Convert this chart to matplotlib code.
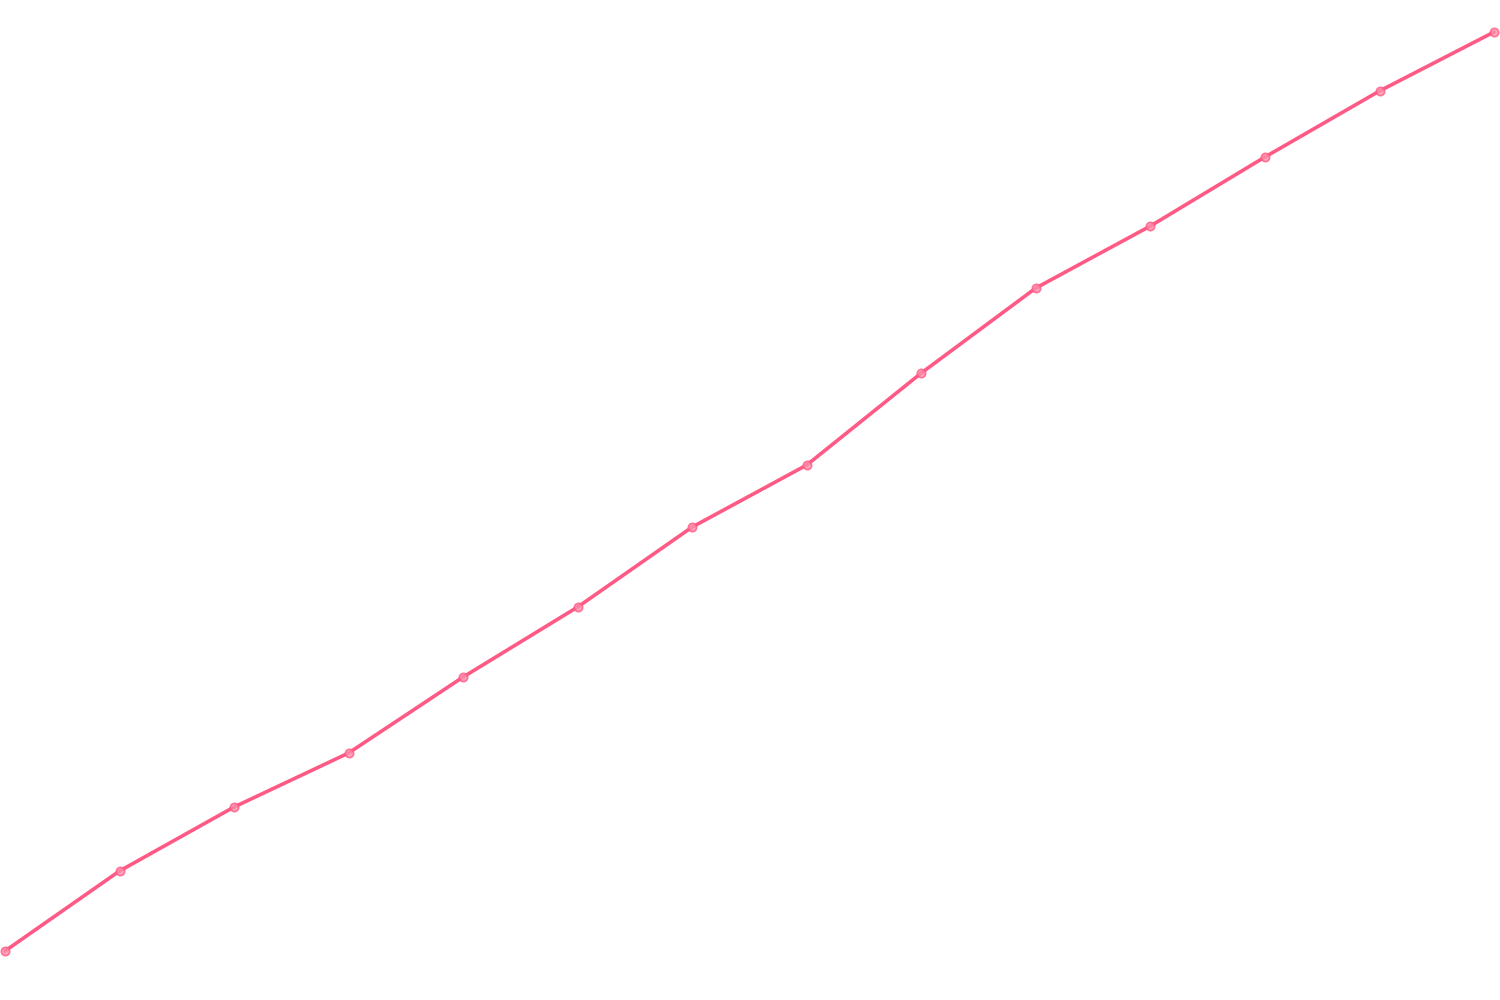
import matplotlib
matplotlib.use("Agg")
import matplotlib.pyplot as plt

steps = list(range(14))
values = [49, 129, 193, 247, 323, 393, 473, 535, 627, 712, 774, 843, 909, 968]

fig = plt.figure(figsize=(15, 10), dpi=100)
ax = fig.add_axes([0, 0, 1, 1])
ax.plot(steps, values, color="#ff5a85", linewidth=2.6, solid_capstyle="round", zorder=2)
ax.plot(steps, values, linestyle="none", marker="o", markersize=6,
        markerfacecolor="#ff8fab", markeredgecolor="#ff5a85", markeredgewidth=1.2,
        alpha=0.8, zorder=3)
ax.set_xlim(-0.0435, 13.052)
ax.set_ylim(0, 1000)
ax.axis("off")
fig.savefig("out.png", dpi=100, facecolor="white")
